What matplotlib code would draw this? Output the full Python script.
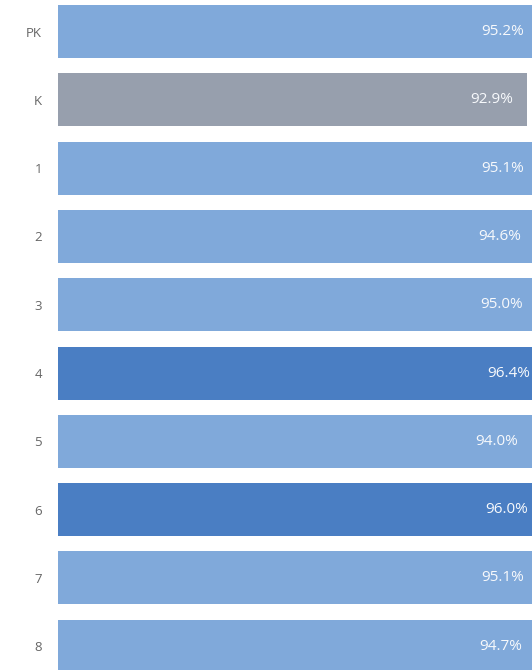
import matplotlib
matplotlib.use("Agg")
import matplotlib.pyplot as plt

categories = ["PK", "K", "1", "2", "3", "4", "5", "6", "7", "8"]
values = [95.2, 92.9, 95.1, 94.6, 95.0, 96.4, 94.0, 96.0, 95.1, 94.7]
colors = ["#80A9DA", "#979FAD", "#80A9DA", "#80A9DA", "#80A9DA",
          "#4A7EC3", "#80A9DA", "#4A7EC3", "#80A9DA", "#80A9DA"]

W, H = 532, 670
dpi = 100
fig = plt.figure(figsize=(W / dpi, H / dpi), dpi=dpi)
fig.patch.set_facecolor("white")

left_px = 57.5
px_per_unit = 5.05
xmax = 100
pitch = 68.3
c0 = 31.5
ax = fig.add_axes([left_px / W, 0, xmax * px_per_unit / W, 1])
ax.set_xlim(0, xmax)
ax.set_ylim((H - c0) / pitch, -c0 / pitch)

ypos = list(range(len(categories)))
ax.barh(ypos, values, height=53 / pitch, color=colors)

for y, v in zip(ypos, values):
    ax.annotate(f"{v:.1f}%", xy=(v, y), xytext=(-14, 0), textcoords="offset pixels",
                ha="right", va="center", color="#F7F9FC", fontsize=11,
                family="Open Sans", annotation_clip=False)

ax.set_yticks(ypos)
ax.set_yticklabels(categories, family="Open Sans", fontsize=9.5, color="#666666")
ax.tick_params(axis="y", length=0, pad=11)
ax.set_xticks([])
for s in ax.spines.values():
    s.set_visible(False)
ax.set_facecolor("white")

fig.savefig("out.png", dpi=dpi)
